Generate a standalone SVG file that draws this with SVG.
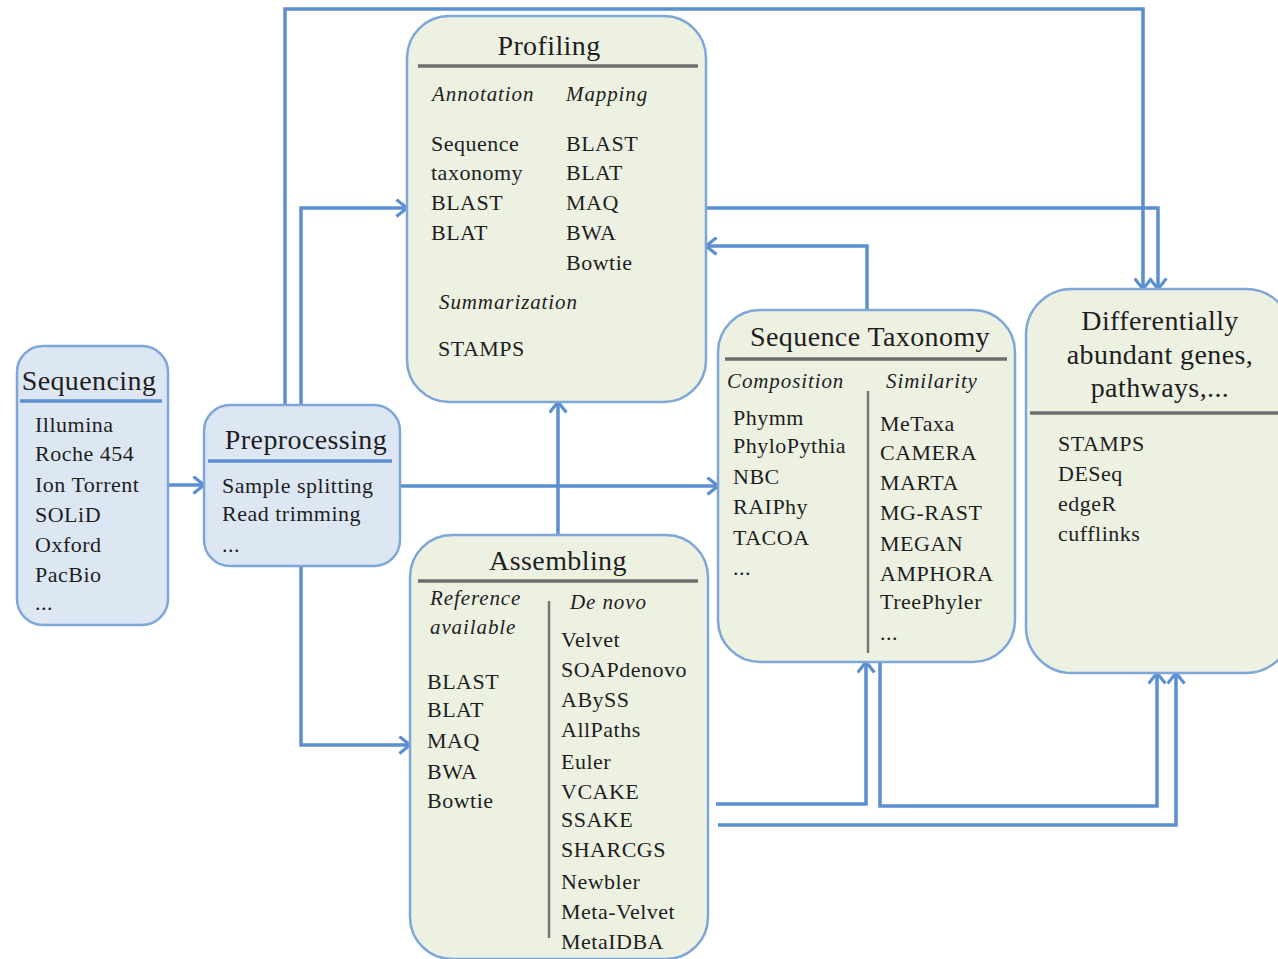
<svg xmlns="http://www.w3.org/2000/svg" width="1278" height="959" viewBox="0 0 1278 959">
<style>
.bb{fill:#dde7f3;stroke:#7ea6d8;stroke-width:2.5}
.gb{fill:#ecf1e2;stroke:#7ea6d8;stroke-width:2.5}
.t{font-family:"Liberation Serif","Times New Roman",serif;fill:#1e1e1e}
.ttl{font-size:28px;letter-spacing:0.4px}
.it{font-size:22px;letter-spacing:0.5px}
.lab{font-size:21px;font-style:italic;letter-spacing:0.9px}
.bl{stroke:#5b8fd0;stroke-width:3.5}
.gl{stroke:#6e6e6e;stroke-width:3.5}
.dv{stroke:#777;stroke-width:2.5}
.c{fill:none;stroke:#5b8fd0;stroke-width:3.5;marker-end:url(#ah)}
</style>
<defs>
<marker id="ah" viewBox="0 0 12 18" refX="11" refY="9" markerUnits="userSpaceOnUse" markerWidth="13" markerHeight="19" orient="auto">
<path d="M1,1 L11,9 L1,17" fill="none" stroke="#5b8fd0" stroke-width="3"/>
</marker>
</defs>
<rect width="1278" height="959" fill="#ffffff"/>

<g id="connectors">
<path class="c" d="M168,485 H204"/>
<path class="c" d="M285,405 V9 H1143 V289"/>
<path class="c" d="M301,405 V208 H407"/>
<path class="c" d="M400,486 H718"/>
<path class="c" d="M301,566 V745 H410"/>
<path class="c" d="M558,535 V402"/>
<path class="c" d="M706,208 H1158 V289"/>
<path class="c" d="M867,310 V246 H706"/>
<path class="c" d="M716,804 H866 V662"/>
<path class="c" d="M880,662 V806 H1157 V673"/>
<path class="c" d="M718,825 H1176 V673"/>
</g>

<g id="sequencing">
<rect class="bb" x="17" y="346" width="151" height="279" rx="26"/>
<text class="t ttl" x="89" y="390" text-anchor="middle">Sequencing</text>
<line class="bl" x1="20" y1="401" x2="162" y2="401"/>
<text class="t it" x="35" y="432">Illumina</text>
<text class="t it" x="35" y="461">Roche 454</text>
<text class="t it" x="35" y="492">Ion Torrent</text>
<text class="t it" x="35" y="522">SOLiD</text>
<text class="t it" x="35" y="552">Oxford</text>
<text class="t it" x="35" y="582">PacBio</text>
<text class="t it" x="35" y="610">...</text>
</g>

<g id="preprocessing">
<rect class="bb" x="204" y="405" width="196" height="161" rx="26"/>
<text class="t ttl" x="306" y="449" text-anchor="middle">Preprocessing</text>
<line class="bl" x1="208" y1="461" x2="392" y2="461"/>
<text class="t it" x="222" y="493">Sample splitting</text>
<text class="t it" x="222" y="521">Read trimming</text>
<text class="t it" x="222" y="552">...</text>
</g>

<g id="profiling">
<rect class="gb" x="407" y="16" width="299" height="386" rx="42"/>
<text class="t ttl" x="549" y="55" text-anchor="middle">Profiling</text>
<line class="gl" x1="418" y1="66" x2="698" y2="66"/>
<text class="t lab" x="432" y="101">Annotation</text>
<text class="t lab" x="566" y="101">Mapping</text>
<text class="t it" x="431" y="151">Sequence</text>
<text class="t it" x="431" y="180">taxonomy</text>
<text class="t it" x="431" y="210">BLAST</text>
<text class="t it" x="431" y="240">BLAT</text>
<text class="t it" x="566" y="151">BLAST</text>
<text class="t it" x="566" y="180">BLAT</text>
<text class="t it" x="566" y="210">MAQ</text>
<text class="t it" x="566" y="240">BWA</text>
<text class="t it" x="566" y="270">Bowtie</text>
<text class="t lab" x="439" y="309">Summarization</text>
<text class="t it" x="438" y="356">STAMPS</text>
</g>

<g id="sequence-taxonomy">
<rect class="gb" x="718" y="310" width="297" height="352" rx="42"/>
<text class="t ttl" x="870" y="346" text-anchor="middle">Sequence Taxonomy</text>
<line class="gl" x1="725" y1="359" x2="1007" y2="359"/>
<text class="t lab" x="727" y="388">Composition</text>
<text class="t lab" x="886" y="388">Similarity</text>
<line class="dv" x1="868" y1="391" x2="868" y2="653"/>
<text class="t it" x="733" y="425">Phymm</text>
<text class="t it" x="733" y="453">PhyloPythia</text>
<text class="t it" x="733" y="484">NBC</text>
<text class="t it" x="733" y="514">RAIPhy</text>
<text class="t it" x="733" y="545">TACOA</text>
<text class="t it" x="733" y="575">...</text>
<text class="t it" x="880" y="431">MeTaxa</text>
<text class="t it" x="880" y="460">CAMERA</text>
<text class="t it" x="880" y="490">MARTA</text>
<text class="t it" x="880" y="520">MG-RAST</text>
<text class="t it" x="880" y="551">MEGAN</text>
<text class="t it" x="880" y="581">AMPHORA</text>
<text class="t it" x="880" y="609">TreePhyler</text>
<text class="t it" x="880" y="640">...</text>
</g>

<g id="differential">
<rect class="gb" x="1026" y="289" width="266" height="384" rx="46"/>
<text class="t ttl" x="1160" y="330" text-anchor="middle">Differentially</text>
<text class="t ttl" x="1160" y="364" text-anchor="middle">abundant genes,</text>
<text class="t ttl" x="1160" y="397" text-anchor="middle">pathways,...</text>
<line class="gl" x1="1030" y1="413" x2="1278" y2="413"/>
<text class="t it" x="1058" y="451">STAMPS</text>
<text class="t it" x="1058" y="481">DESeq</text>
<text class="t it" x="1058" y="511">edgeR</text>
<text class="t it" x="1058" y="541">cufflinks</text>
</g>

<g id="assembling">
<rect class="gb" x="410" y="535" width="298" height="424" rx="42"/>
<text class="t ttl" x="558" y="570" text-anchor="middle">Assembling</text>
<line class="gl" x1="418" y1="581" x2="698" y2="581"/>
<text class="t lab" x="430" y="605">Reference</text>
<text class="t lab" x="430" y="634">available</text>
<text class="t lab" x="570" y="609">De novo</text>
<line class="dv" x1="549" y1="601" x2="549" y2="938"/>
<text class="t it" x="427" y="689">BLAST</text>
<text class="t it" x="427" y="717">BLAT</text>
<text class="t it" x="427" y="748">MAQ</text>
<text class="t it" x="427" y="779">BWA</text>
<text class="t it" x="427" y="808">Bowtie</text>
<text class="t it" x="561" y="647">Velvet</text>
<text class="t it" x="561" y="677">SOAPdenovo</text>
<text class="t it" x="561" y="707">ABySS</text>
<text class="t it" x="561" y="737">AllPaths</text>
<text class="t it" x="561" y="769">Euler</text>
<text class="t it" x="561" y="799">VCAKE</text>
<text class="t it" x="561" y="827">SSAKE</text>
<text class="t it" x="561" y="857">SHARCGS</text>
<text class="t it" x="561" y="889">Newbler</text>
<text class="t it" x="561" y="919">Meta-Velvet</text>
<text class="t it" x="561" y="949">MetaIDBA</text>
</g>
</svg>
